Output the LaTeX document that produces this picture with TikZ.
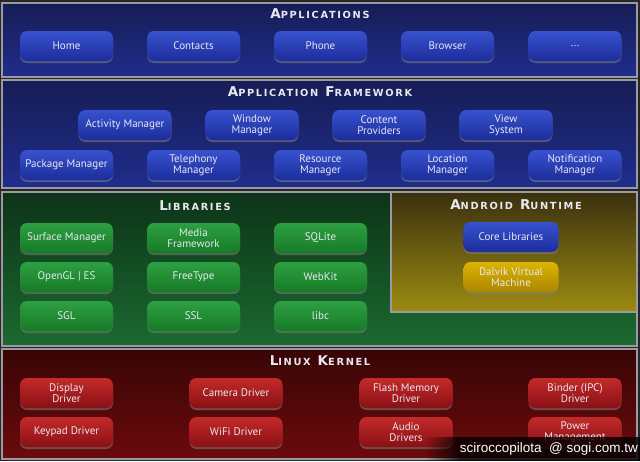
\documentclass[tikz,border=0pt]{standalone}
\usepackage{fontspec}
\setmainfont{PT Sans}
\newfontfamily\ttlfont[LetterSpace=17]{DejaVu Sans}
\newfontfamily\wmfont{Liberation Sans}
\usetikzlibrary{shadows,fadings}
\definecolor{bgdark}{HTML}{262628}
\definecolor{sep}{HTML}{9A9AA0}
\definecolor{navyT}{HTML}{161D55}
\definecolor{navyB}{HTML}{202D8C}
\definecolor{grnT}{HTML}{0D3318}
\definecolor{grnB}{HTML}{1B6A30}
\definecolor{oliT}{HTML}{3A300E}
\definecolor{oliB}{HTML}{9C8B12}
\definecolor{redT}{HTML}{380505}
\definecolor{redB}{HTML}{6C0A0C}
\definecolor{txt}{HTML}{E8E8F0}
\definecolor{bluT}{HTML}{3752CE}
\definecolor{bluB}{HTML}{1C2D9C}
\definecolor{grT}{HTML}{2DA042}
\definecolor{grB}{HTML}{177A27}
\definecolor{rdT}{HTML}{C42A2A}
\definecolor{rdB}{HTML}{891014}
\definecolor{ylT}{HTML}{DCB402}
\definecolor{ylB}{HTML}{AC8600}
\tikzfading[name=fadein, left color=transparent!100, right color=transparent!0]
\newcommand{\ttl}[2]{{\ttlfont\bfseries\fontsize{13.5}{13.5}\selectfont #1\fontsize{9.8}{10}\selectfont #2}}
\newcommand{\tsp}{\hspace{7pt}}
\tikzset{
  band/.style={draw=sep, line width=1.5pt},
  btn/.style={rounded corners=7pt, minimum width=93pt, minimum height=30pt,
    align=center, text=txt, font=\fontsize{11}{11}\selectfont, inner sep=1pt,
    drop shadow={shadow xshift=0pt, shadow yshift=-2pt, opacity=0.55}},
  bbtn/.style={btn, top color=bluT, bottom color=bluB},
  gbtn/.style={btn, top color=grT, bottom color=grB},
  rbtn/.style={btn, top color=rdT, bottom color=rdB},
  ybtn/.style={btn, top color=ylT, bottom color=ylB},
  title/.style={text=txt, inner sep=0pt}
}
\begin{document}
\begin{tikzpicture}[x=1pt,y=-1pt]
\useasboundingbox (0,0) rectangle (640,461);
\fill[bgdark] (0,0) rectangle (640,461);
% bands
\path[band, top color=navyT, bottom color=navyB] (2,3) rectangle (637,77);
\path[band, top color=navyT, bottom color=navyB] (2,80) rectangle (637,188);
\path[band, top color=grnT, bottom color=grnB] (2,192) rectangle (637,346);
\path[band, top color=oliT, bottom color=oliB] (391,192) rectangle (637,312);
\path[band, top color=redT, bottom color=redB] (2,349) rectangle (637,459);
% titles
\node[title] (tApp) at (320,14) {\ttl{A}{PPLICATIONS}};
\node[title] (tFw) at (320,92) {\ttl{A}{PPLICATION}\tsp\ttl{F}{RAMEWORK}};
\node[title] (tLib) at (195,206) {\ttl{L}{IBRARIES}};
\node[title] (tRt) at (516,205) {\ttl{A}{NDROID}\tsp\ttl{R}{UNTIME}};
\node[title] (tKer) at (320,361) {\ttl{L}{INUX}\tsp\ttl{K}{ERNEL}};
% applications
\node[bbtn] (a1) at (66.5,46) {Home};
\node[bbtn] (a2) at (193.5,46) {Contacts};
\node[bbtn] (a3) at (320.5,46) {Phone};
\node[bbtn] (a4) at (447.5,46) {Browser};
\node[bbtn] (a5) at (575,46) {...};
% framework
\node[bbtn] (f1) at (125,125) {Activity Manager};
\node[bbtn] (f2) at (252,125) {Window\\Manager};
\node[bbtn] (f3) at (379,125) {Content\\Providers};
\node[bbtn] (f4) at (506,125) {View\\System};
\node[bbtn] (f5) at (66.5,165) {Package Manager};
\node[bbtn] (f6) at (193.5,165) {Telephony\\Manager};
\node[bbtn] (f7) at (320.5,165) {Resource\\Manager};
\node[bbtn] (f8) at (447.5,165) {Location\\Manager};
\node[bbtn] (f9) at (575,165) {Notification\\Manager};
% libraries
\node[gbtn] (l1) at (66.5,238) {Surface Manager};
\node[gbtn] (l2) at (193.5,238) {Media\\Framework};
\node[gbtn] (l3) at (320.5,238) {SQLite};
\node[gbtn] (l4) at (66.5,277) {OpenGL | ES};
\node[gbtn] (l5) at (193.5,277) {FreeType};
\node[gbtn] (l6) at (320.5,277) {WebKit};
\node[gbtn] (l7) at (66.5,316) {SGL};
\node[gbtn] (l8) at (193.5,316) {SSL};
\node[gbtn] (l9) at (320.5,316) {libc};
% runtime
\node[bbtn, minimum width=95pt] (r1) at (511,237) {Core Libraries};
\node[ybtn, minimum width=95pt] (r2) at (511,277) {Dalvik Virtual\\Machine};
% kernel
\node[rbtn] (k1) at (66.5,393) {Display\\Driver};
\node[rbtn] (k2) at (236,393) {Camera Driver};
\node[rbtn] (k3) at (406,393) {Flash Memory\\Driver};
\node[rbtn] (k4) at (575,393) {Binder (IPC)\\Driver};
\node[rbtn] (k5) at (66.5,432) {Keypad Driver};
\node[rbtn] (k6) at (236,432) {WiFi Driver};
\node[rbtn] (k7) at (406,432) {Audio\\Drivers};
\node[rbtn] (k8) at (575,432) {Power\\Management};
% watermark
\fill[black, fill opacity=0.8] (460,437) rectangle (640,461);
\fill[black, fill opacity=0.8, path fading=fadein] (425,437) rectangle (460,461);
\node[text=white, font=\wmfont\fontsize{13.5}{13.5}\selectfont, anchor=east, inner sep=0pt] (wm) at (638,449.5) {sciroccopilota\ \ @ sogi.com.tw};
\end{tikzpicture}
\end{document}
